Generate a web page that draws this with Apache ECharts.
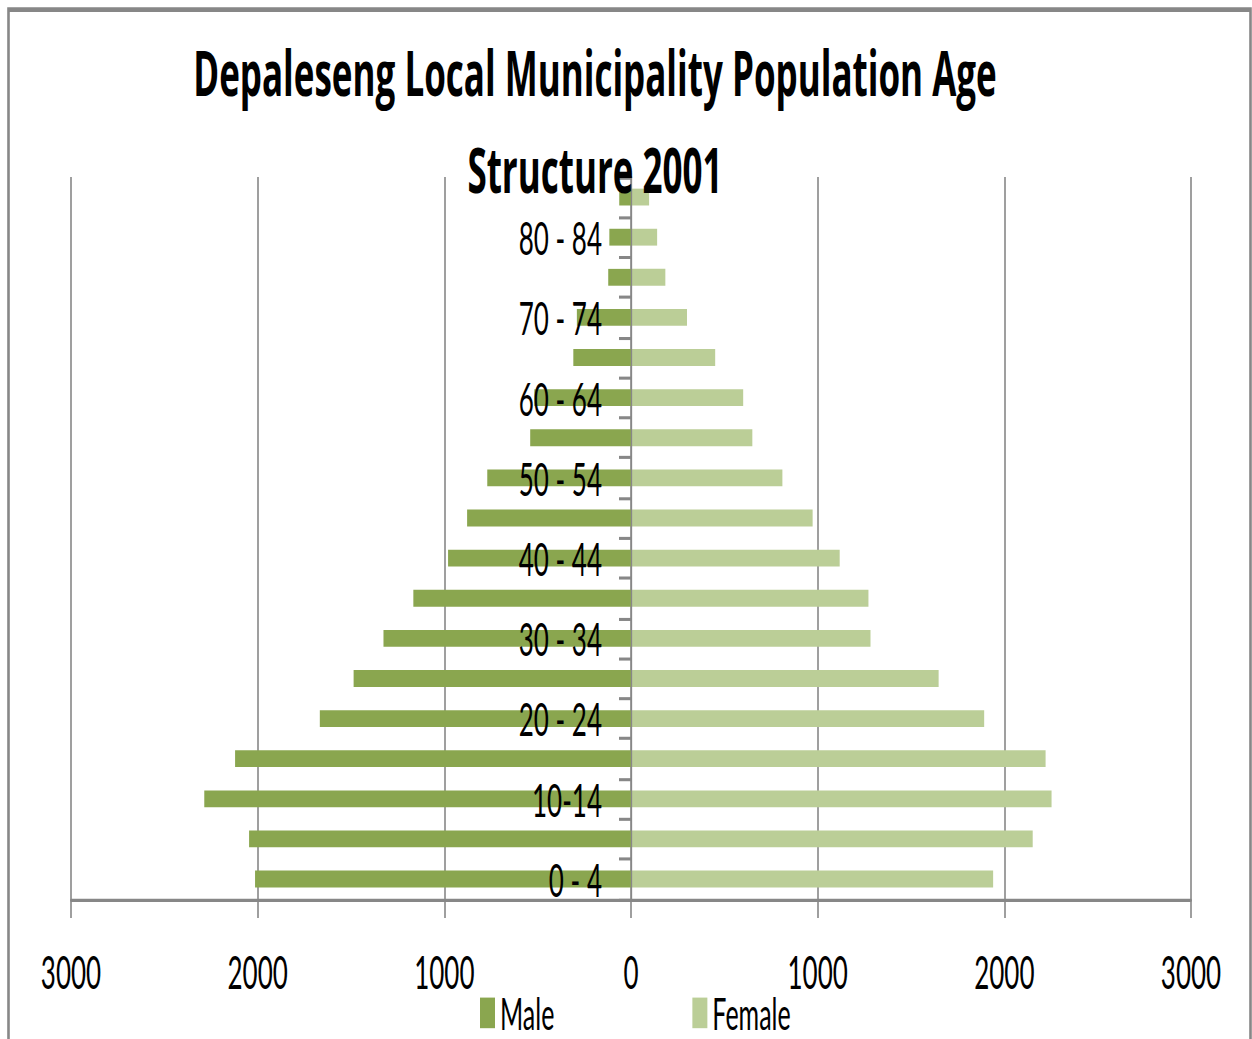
<!DOCTYPE html>
<html>
<head>
<meta charset="utf-8">
<script src="https://cdn.jsdelivr.net/npm/echarts@6/dist/echarts.min.js"></script>
<style>
html,body{margin:0;padding:0;background:#fff;overflow:hidden}
#wrap{width:1252px;height:1039px;overflow:hidden;position:relative}
#chart{width:1252px;height:577px;transform:scaleY(1.8007);transform-origin:0 0}
</style>
</head>
<body>
<div id="wrap"><div id="chart"></div></div>
<script>
const titleText = 'Depaleseng Local Municipality Population Age\nStructure 2001';
const categories = ['0 - 4','5 - 9','10-14','15 - 19','20 - 24','25 - 29','30 - 34','35 - 39','40 - 44','45 - 49','50 - 54','55 - 59','60 - 64','65 - 69','70 - 74','75 - 79','80 - 84','85+'];
const male   = [2014, 2046, 2286, 2121, 1667, 1486, 1326, 1166, 980, 878, 770, 540, 518, 309, 290, 122, 116, 63];
const female = [1940, 2152, 2253, 2221, 1892, 1648, 1283, 1272, 1118, 973, 811, 650, 601, 451, 300, 184, 140, 97];
const xTickValues = [-3000, -2000, -1000, 0, 1000, 2000, 3000];
const seriesNames = ['Male', 'Female'];

const FONT = 'Lato, "Open Sans", sans-serif';
const TITLE_FONT = '"Open Sans", Lato, sans-serif';
const GRAY = '#878787';

const GRID_LEFT = 71, GRID_RIGHT = 61, CHART_W = 1252;
const plotW = CHART_W - GRID_LEFT - GRID_RIGHT;

const chart = echarts.init(document.getElementById('chart'), null, {renderer: 'svg'});
chart.setOption({
  animation: false,
  backgroundColor: '#fff',
  title: {
    text: titleText,
    left: 590,
    top: 8,
    z: 20,
    textAlign: 'center',
    textStyle: {fontFamily: TITLE_FONT, fontWeight: 'bold', fontSize: 35, lineHeight: 54, color: '#000'}
  },
  graphic: [{
    type: 'rect',
    shape: {x: 8.5, y: 5.3, width: 1242, height: 620},
    style: {fill: 'none', stroke: GRAY, lineWidth: 2.6},
    silent: true
  }],
  legend: {
    data: seriesNames,
    left: 480,
    top: 550,
    padding: 0,
    itemWidth: 15,
    itemHeight: 17,
    itemGap: 138,
    icon: 'rect',
    textStyle: {fontFamily: FONT, fontSize: 25, lineHeight: 24, color: '#000'}
  },
  grid: {left: GRID_LEFT, right: GRID_RIGHT, top: 98.3, bottom: 77.7, containLabel: false, outerBoundsMode: 'none'},
  xAxis: {
    type: 'value',
    min: xTickValues[0],
    max: xTickValues[xTickValues.length - 1],
    interval: xTickValues[1] - xTickValues[0],
    axisLine: {show: true, onZero: false, lineStyle: {color: GRAY, width: 1.7}},
    axisTick: {show: true, length: 10.5, lineStyle: {color: GRAY, width: 1.6}},
    splitLine: {show: true, lineStyle: {color: GRAY, width: 1.6}},
    axisLabel: {
      formatter: v => String(Math.abs(v)),
      fontFamily: FONT, fontSize: 26, color: '#000',
      margin: 40, verticalAlign: 'middle'
    }
  },
  yAxis: {
    type: 'category',
    data: categories,
    boundaryGap: true,
    position: 'left',
    offset: -plotW / 2,
    z: 10,
    axisLine: {show: true, onZero: false, lineStyle: {color: GRAY, width: 1.3}},
    axisTick: {show: true, interval: 0, length: 12, lineStyle: {color: GRAY, width: 1.7}},
    axisLabel: {interval: 1, fontFamily: FONT, fontSize: 26, color: '#000', margin: 29},
    splitLine: {show: false}
  },
  series: [
    {
      name: seriesNames[0], type: 'bar', barWidth: '42%', barGap: '-100%',
      itemStyle: {color: '#8aa64f'},
      data: male.map(v => -v)
    },
    {
      name: seriesNames[1], type: 'bar', barWidth: '42%', barGap: '-100%',
      itemStyle: {color: '#bbce97'},
      data: female
    }
  ]
});
</script>
</body>
</html>
